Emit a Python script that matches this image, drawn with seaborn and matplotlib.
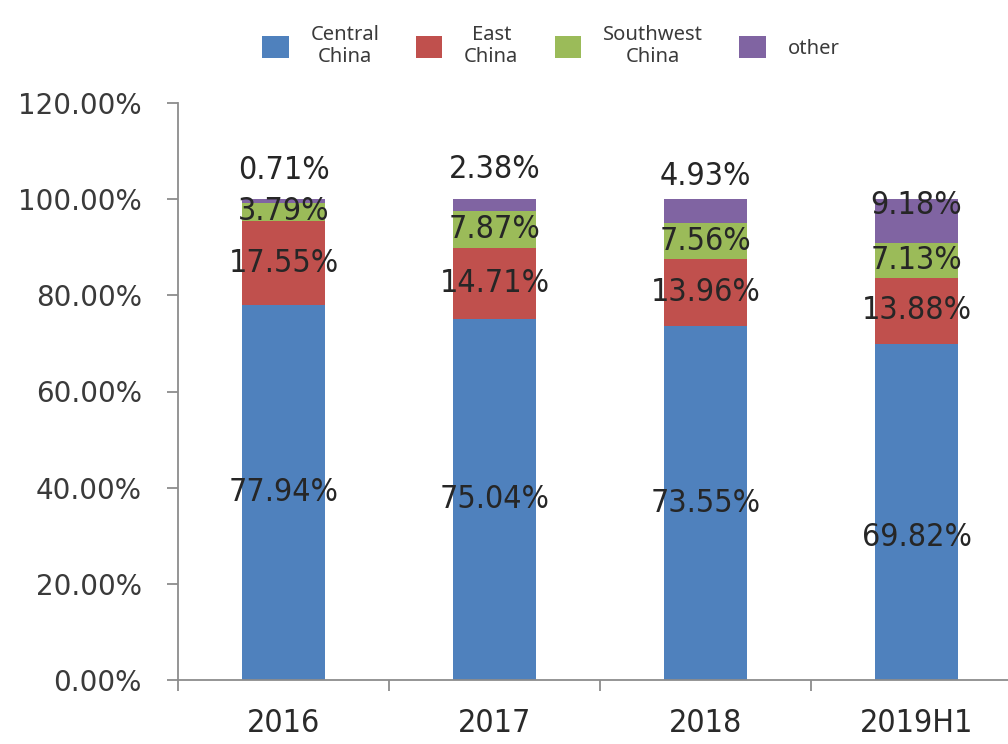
import matplotlib
matplotlib.use("Agg")
import matplotlib.pyplot as plt
from matplotlib.patches import Patch
from matplotlib.ticker import FixedLocator
import numpy as np
import pandas as pd
import seaborn as sns

# Regional share of shipments per period (percent)
periods = ["2016", "2017", "2018", "2019H1"]
central_china = [77.94, 75.04, 73.55, 69.82]
east_china = [17.55, 14.71, 13.96, 13.88]
southwest_china = [3.79, 7.87, 7.56, 7.13]
other = [0.71, 2.38, 4.93, 9.18]

series_names = ["Central\nChina", "East\nChina", "Southwest\nChina", "other"]
series_values = [central_china, east_china, southwest_china, other]
series_colors = ["#4f81bd", "#c0504d", "#9bbb59", "#8064a2"]

sns.set_theme(style="white")
plt.rcParams["font.family"] = ["DejaVu Sans"]

fig = plt.figure(figsize=(10.08, 7.44), dpi=100)
ax = fig.add_axes([178 / 1008, 64 / 744, 844 / 1008, 577 / 744])

# Stacked bars: draw cumulative totals from the top layer down so each
# lower layer covers the one above it.
values = np.array(series_values)
cumulative = np.cumsum(values, axis=0)
for i in range(len(series_names) - 1, -1, -1):
    df = pd.DataFrame({"period": periods, "total": cumulative[i]})
    sns.barplot(data=df, x="period", y="total", color=series_colors[i],
                saturation=1, width=0.39, ax=ax, edgecolor="none")

# Value labels
label_kw = dict(ha="center", va="center", fontsize=23, color="#262626",
                fontstretch="condensed")
# Nudges (in points) for labels that sit off the segment centre
nudges = {(0, 3): 21, (1, 3): 21, (2, 3): 16, (3, 3): 11, (3, 0): -18}
for i in range(len(series_names)):
    for j in range(len(periods)):
        v = values[i, j]
        base = cumulative[i, j] - v
        dy = nudges.get((j, i), 0)
        y = base + v / 2
        if i == 3 and j < 3:
            y = cumulative[i, j]
        ax.annotate(f"{v:.2f}%", (j, y), xytext=(0, dy),
                    textcoords="offset points", **label_kw)

ax.set_ylim(0, 120)
ax.set_xlim(-0.5, len(periods) - 0.5)
ax.set_yticks(np.arange(0, 121, 20))
ax.set_yticklabels([f"{t:.2f}%" for t in np.arange(0, 121, 20)])
ax.set_xlabel("")
ax.set_ylabel("")

axis_gray = "#8c8c8c"
for side in ["top", "right"]:
    ax.spines[side].set_visible(False)
for side in ["left", "bottom"]:
    ax.spines[side].set_color(axis_gray)
    ax.spines[side].set_linewidth(1.3)

ax.tick_params(axis="y", which="major", direction="out", length=8,
               width=1.3, color=axis_gray, labelsize=20, labelcolor="#3a3a3a",
               pad=18, left=True)
ax.xaxis.set_minor_locator(FixedLocator(np.arange(-0.5, len(periods), 1.0)))
ax.tick_params(axis="x", which="minor", direction="out", length=8,
               width=1.3, color=axis_gray, bottom=True)
ax.tick_params(axis="x", which="major", length=0, pad=20, labelsize=23,
               labelcolor="#2a2a2a")
for lab in ax.get_xticklabels():
    lab.set_fontstretch("condensed")

# Legend along the top
handles = [Patch(facecolor=c, edgecolor="none") for c in series_colors]
leg = fig.legend(handles, series_names, ncol=4, loc="center",
                 bbox_to_anchor=(551 / 1008, 1 - 46 / 744), frameon=False,
                 handlelength=1.3, handleheight=1.3,
                 handletextpad=1.1, columnspacing=1.8,
                 prop={"family": "Noto Sans", "size": 14.5})
for t in leg.get_texts():
    t.set_multialignment("center")
    t.set_color("#3a3a3a")

fig.savefig("out.png", dpi=100, facecolor="white")
